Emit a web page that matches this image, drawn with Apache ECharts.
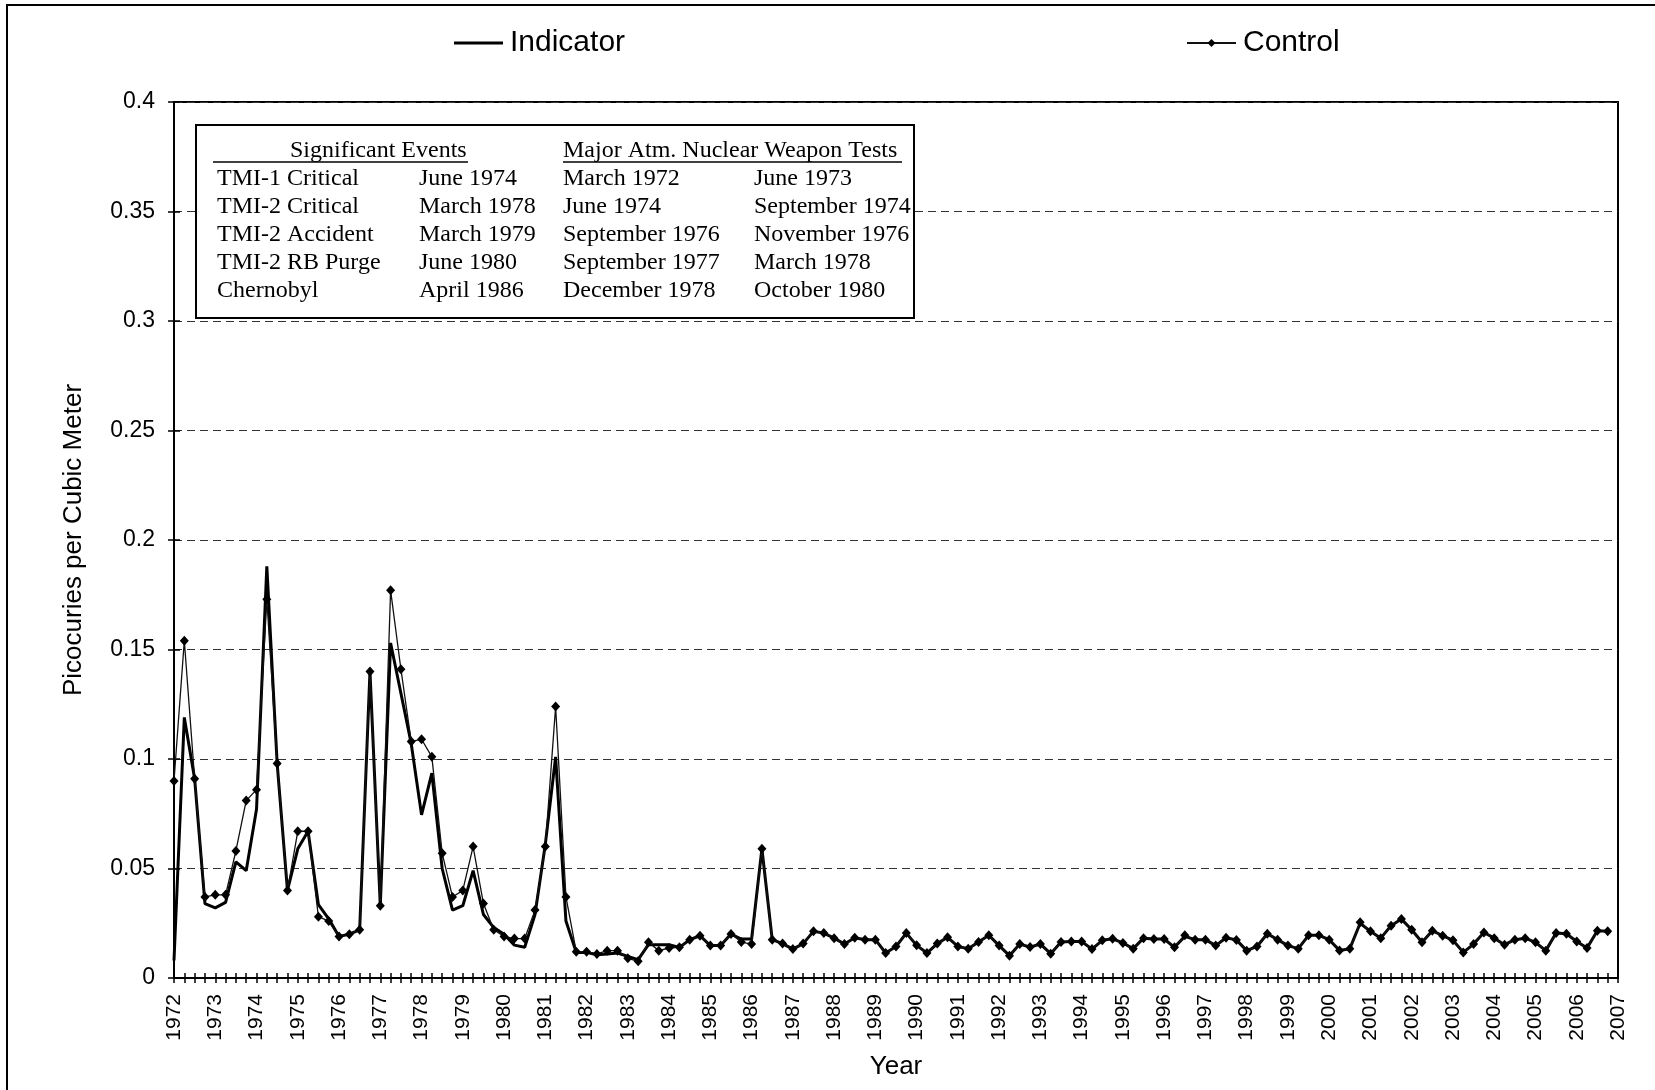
<!DOCTYPE html>
<html>
<head>
<meta charset="utf-8">
<script src="https://cdn.jsdelivr.net/npm/echarts@6/dist/echarts.min.js"></script>
<style>
html,body{margin:0;padding:0;background:#fff;}
#chart{width:1655px;height:1090px;}
</style>
</head>
<body>
<div id="chart"></div>
<script>
// ---- Data (quarterly, 1972 Q1 .. 2006 Q4) ----
const tickYears = ['1972','1973','1974','1975','1976','1977','1978','1979','1980','1981','1982','1983',
  '1984','1985','1986','1987','1988','1989','1990','1991','1992','1993','1994','1995','1996','1997',
  '1998','1999','2000','2001','2002','2003','2004','2005','2006','2007'];

const indicator = [
  0.008, 0.119, 0.091, 0.034,
  0.032, 0.0345, 0.053, 0.049,
  0.077, 0.188, 0.098, 0.040,
  0.059, 0.067, 0.0335, 0.027,
  0.019, 0.020, 0.022, 0.140,
  0.033, 0.153, 0.130, 0.107,
  0.0745, 0.0935, 0.050, 0.031,
  0.033, 0.049, 0.029, 0.023,
  0.020, 0.015, 0.014, 0.029,
  0.061, 0.101, 0.026, 0.0117,
  0.0117, 0.0106, 0.011, 0.0114,
  0.0099, 0.0084, 0.0152, 0.0152,
  0.0152, 0.014, 0.0175, 0.0193,
  0.0148, 0.0148, 0.0201, 0.0178,
  0.0178, 0.059, 0.0175, 0.0157,
  0.0132, 0.0157, 0.0213, 0.0205,
  0.0182, 0.0155, 0.0184, 0.0175,
  0.0175, 0.0114, 0.0144, 0.0205,
  0.0149, 0.0114, 0.0157, 0.0186,
  0.0144, 0.0134, 0.0164, 0.0195,
  0.0148, 0.0102, 0.0155, 0.0141,
  0.0155, 0.0111, 0.0164, 0.0167,
  0.0167, 0.0132, 0.0172, 0.0179,
  0.016, 0.0134, 0.0182, 0.0178,
  0.0178, 0.014, 0.0190, 0.0175,
  0.0175, 0.0148, 0.0184, 0.0174,
  0.0125, 0.0144, 0.0202, 0.0175,
  0.0148, 0.0134, 0.0195, 0.0195,
  0.0175, 0.0126, 0.0134, 0.0250,
  0.0213, 0.0182, 0.0239, 0.0269,
  0.022, 0.0163, 0.0216, 0.0193,
  0.0172, 0.0117, 0.0155, 0.0208,
  0.0182, 0.0152, 0.0175, 0.0182,
  0.0163, 0.0125, 0.0205, 0.0202,
  0.0167, 0.0137, 0.0216, 0.0213
];

const control = [
  0.090, 0.154, 0.091, 0.037,
  0.038, 0.038, 0.058, 0.081,
  0.086, 0.173, 0.098, 0.040,
  0.067, 0.067, 0.028, 0.026,
  0.019, 0.020, 0.022, 0.140,
  0.033, 0.177, 0.141, 0.108,
  0.109, 0.101, 0.057, 0.037,
  0.040, 0.060, 0.034, 0.022,
  0.019, 0.018, 0.018, 0.031,
  0.060, 0.124, 0.037, 0.012,
  0.012, 0.011, 0.0125, 0.0125,
  0.009, 0.0076, 0.0163, 0.0125,
  0.0137, 0.014, 0.0175, 0.0193,
  0.0148, 0.0148, 0.0201, 0.0164,
  0.0155, 0.059, 0.0175, 0.0157,
  0.0132, 0.0157, 0.0213, 0.0205,
  0.0182, 0.0155, 0.0184, 0.0175,
  0.0175, 0.0114, 0.0144, 0.0205,
  0.0149, 0.0114, 0.0157, 0.0186,
  0.0144, 0.0134, 0.0164, 0.0195,
  0.0148, 0.0102, 0.0155, 0.0141,
  0.0155, 0.0111, 0.0164, 0.0167,
  0.0167, 0.0132, 0.0172, 0.0179,
  0.016, 0.0134, 0.0182, 0.0178,
  0.0178, 0.014, 0.0195, 0.0175,
  0.0175, 0.0148, 0.0184, 0.0174,
  0.0125, 0.0144, 0.0202, 0.0175,
  0.0148, 0.0134, 0.0195, 0.0195,
  0.0175, 0.0126, 0.0134, 0.0254,
  0.0213, 0.0182, 0.0239, 0.0269,
  0.022, 0.0163, 0.0216, 0.0193,
  0.0172, 0.0117, 0.0155, 0.0208,
  0.0182, 0.0152, 0.0175, 0.0182,
  0.0163, 0.0125, 0.0205, 0.0202,
  0.0167, 0.0137, 0.0216, 0.0213
];

// Inset table text
const eventNames = ['TMI-1 Critical','TMI-2 Critical','TMI-2 Accident','TMI-2 RB Purge','Chernobyl'];
const eventDates = ['June 1974','March 1978','March 1979','June 1980','April 1986'];
const testsA = ['March 1972','June 1974','September 1976','September 1977','December 1978'];
const testsB = ['June 1973','September 1974','November 1976','March 1978','October 1980'];

// ---- Categories: one per quarter, plus the closing 2007 tick ----
const cats = [];
for (let y = 0; y < tickYears.length - 1; y++) {
  for (let q = 1; q <= 4; q++) cats.push(tickYears[y] + ' Q' + q);
}
cats.push(tickYears[tickYears.length - 1] + ' Q1');

const SANS = '"Liberation Sans", Arial, Helvetica, sans-serif';
const SERIF = '"Liberation Serif", "Times New Roman", serif';

const chart = echarts.init(document.getElementById('chart'), null, {renderer: 'canvas'});

const graphics = [];
graphics.push({type: 'rect', shape: {x: 7, y: 5, width: 1700, height: 1200}, silent: true,
  style: {fill: 'none', stroke: '#000', lineWidth: 2}, z: 0});
graphics.push({type: 'rect', shape: {x: 196, y: 125, width: 718, height: 193}, z: 100,
  style: {fill: '#fff', stroke: '#000', lineWidth: 2}});
function txt(t, x, y) {
  return {type: 'text', x: x, y: y, z: 101,
    style: {text: t, fontSize: 24, fontFamily: SERIF, fill: '#000', verticalAlign: 'middle', align: 'left'}};
}
graphics.push(txt('Significant Events', 290, 151));
graphics.push(txt('Major Atm. Nuclear Weapon Tests', 563, 151));
graphics.push({type: 'line', z: 101, shape: {x1: 213, y1: 162, x2: 468, y2: 162}, style: {stroke: '#000', lineWidth: 1.5}});
graphics.push({type: 'line', z: 101, shape: {x1: 563, y1: 162, x2: 902, y2: 162}, style: {stroke: '#000', lineWidth: 1.5}});
const rowY = [179, 207, 235, 263, 291];
for (let r = 0; r < 5; r++) {
  graphics.push(txt(eventNames[r], 217, rowY[r]));
  graphics.push(txt(eventDates[r], 419, rowY[r]));
  graphics.push(txt(testsA[r], 563, rowY[r]));
  graphics.push(txt(testsB[r], 754, rowY[r]));
}

const option = {
  animation: false,
  backgroundColor: '#ffffff',
  grid: {left: 174, top: 102, right: 37, bottom: 112, show: true, borderColor: '#000', borderWidth: 2, backgroundColor: 'transparent'},
  legend: [
    {data: [{name: 'Indicator', icon: 'rect'}], left: 449, top: 23, itemWidth: 49, itemHeight: 3,
      textStyle: {fontSize: 30, fontFamily: SANS, color: '#000', padding: [0, 0, 0, 2]}},
    {data: ['Control'], left: 1181, top: 23, itemWidth: 49, itemHeight: 10,
      textStyle: {fontSize: 30, fontFamily: SANS, color: '#000', padding: [0, 0, 0, 2]}}
  ],
  xAxis: [
    {type: 'category', data: cats, boundaryGap: false,
      axisLine: {lineStyle: {color: '#000', width: 2}},
      axisTick: {show: true, interval: 0, length: 5, lineStyle: {color: '#000', width: 1.5}},
      axisLabel: {interval: 3, rotate: 90, margin: 16, fontSize: 21, fontFamily: SANS, color: '#000',
        formatter: function (v) { return v.slice(0, 4); }},
      splitLine: {show: false},
      name: 'Year', nameLocation: 'middle', nameGap: 76,
      nameTextStyle: {fontSize: 26, fontFamily: SANS, color: '#000'}},
    {type: 'category', data: cats, boundaryGap: false, position: 'bottom',
      axisLine: {show: false},
      axisTick: {show: true, inside: true, interval: 0, length: 5, lineStyle: {color: '#000', width: 1.5}},
      axisLabel: {show: false}, splitLine: {show: false}}
  ],
  yAxis: [
    {type: 'value', min: 0, max: 0.4, interval: 0.05,
      axisLine: {show: true, lineStyle: {color: '#000', width: 2}},
      axisTick: {show: true, length: 6, lineStyle: {color: '#000', width: 1.5}},
      axisLabel: {margin: 19, fontSize: 23, fontFamily: SANS, color: '#000',
        formatter: function (v) { return String(Math.round(v * 100) / 100); }},
      splitLine: {show: true, lineStyle: {color: '#333', width: 1, type: [8, 5]}},
      name: 'Picocuries per Cubic Meter', nameLocation: 'middle', nameGap: 87, nameRotate: 90,
      nameTextStyle: {fontSize: 26, fontFamily: SANS, color: '#000'}},
    {type: 'value', min: 0, max: 0.4, interval: 0.05, position: 'left',
      axisLine: {show: false},
      axisTick: {show: true, inside: true, length: 6, lineStyle: {color: '#000', width: 1.5}},
      axisLabel: {show: false}, splitLine: {show: false}}
  ],
  series: [
    {name: 'Indicator', type: 'line', data: indicator, xAxisIndex: 0, yAxisIndex: 0,
      symbol: 'none', lineStyle: {color: '#000', width: 3}, itemStyle: {color: '#000'}, z: 3},
    {name: 'Control', type: 'line', data: control, xAxisIndex: 0, yAxisIndex: 0,
      symbol: 'diamond', symbolSize: [9, 10], showSymbol: true, showAllSymbol: true,
      lineStyle: {color: '#111', width: 1.3}, itemStyle: {color: '#000'}, z: 4}
  ],
  graphic: graphics
};
chart.setOption(option);
</script>
</body>
</html>
